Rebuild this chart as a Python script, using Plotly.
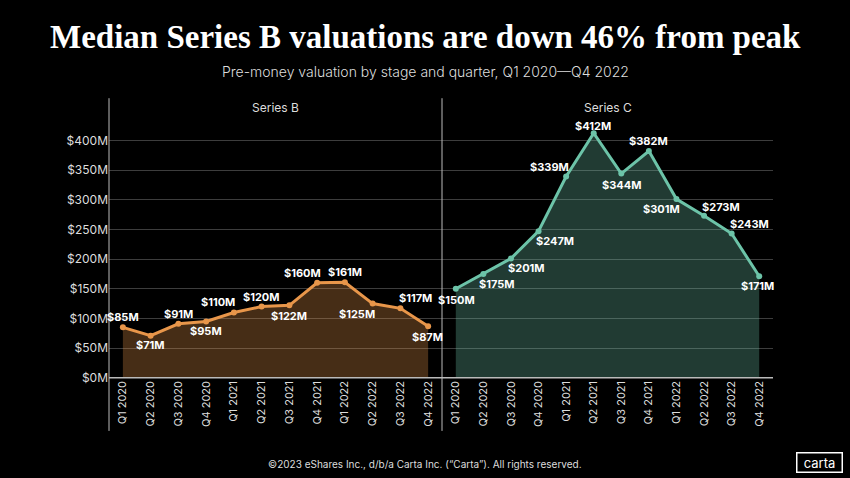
import plotly.graph_objects as go

quarters = ["Q1 2020", "Q2 2020", "Q3 2020", "Q4 2020",
            "Q1 2021", "Q2 2021", "Q3 2021", "Q4 2021",
            "Q1 2022", "Q2 2022", "Q3 2022", "Q4 2022"]
series_b = [85, 71, 91, 95, 110, 120, 122, 160, 161, 125, 117, 87]
series_c = [150, 175, 201, 247, 339, 412, 344, 382, 301, 273, 243, 171]
y_ticks = [0, 50, 100, 150, 200, 250, 300, 350, 400]
y_tick_text = [f"${v}M" for v in y_ticks]

# label offsets (style): pixel shifts of each value label from its point
shift_b = [(0, 10), (0, -9), (0, 10), (0, -10), (-16, 10), (0, 10),
           (0, -11), (-15, 10), (0, 10), (-16, -10), (15, 10), (-1, -11)]
shift_c = [(1, -11), (14, -10), (16, -10), (16, -10), (-17, 10), (-1, 7),
           (0, -11), (0, 10), (-15, -10), (17, 9), (18, 10), (-2, -10)]

# page is captured slightly squeezed vertically: draw a taller figure
W, H = 850, 486
REF_H = 478
def px(x): return x / W
def py(y): return 1 - y / REF_H

SANS = "Inter"
fig = go.Figure()
x_idx = list(range(len(quarters)))

for vals, col, fillc, xa, ya in [
    (series_b, "#e8964a", "rgba(232,150,74,0.30)", "x", "y"),
    (series_c, "#6cc3a8", "rgba(108,195,168,0.30)", "x2", "y2"),
]:
    fig.add_trace(go.Scatter(
        x=x_idx, y=vals, xaxis=xa, yaxis=ya,
        mode="lines+markers", fill="tozeroy", fillcolor=fillc,
        line=dict(color=col, width=3), marker=dict(size=6, color=col),
        hoverinfo="skip", showlegend=False))

for vals, shifts, xa, ya in [(series_b, shift_b, "x", "y"),
                             (series_c, shift_c, "x2", "y2")]:
    for i, (v, (dx, dy)) in enumerate(zip(vals, shifts)):
        fig.add_annotation(
            x=i, y=v, xref=xa, yref=ya, text=f"${v}M", showarrow=False,
            xanchor="center", yanchor="middle", xshift=dx, yshift=dy,
            font=dict(family=SANS, size=11, color="white", weight="bold"))

xaxis_common = dict(
    range=[-0.5, 11.5], tickmode="array", tickvals=x_idx, ticktext=quarters,
    tickangle=-90, showgrid=False, zeroline=False, showline=False,
    ticks="", tickfont=dict(family=SANS, size=11, color="#dddddd"),
    fixedrange=True)
yaxis_common = dict(
    range=[0, 471], tickmode="array", tickvals=y_ticks, ticktext=y_tick_text,
    showgrid=True, gridcolor="#3d3d3d", gridwidth=1, zeroline=False,
    showline=False, ticks="", fixedrange=True)

fig.update_layout(
    width=W, height=H, paper_bgcolor="black", plot_bgcolor="black",
    margin=dict(l=0, r=0, t=0, b=0),
    xaxis=dict(domain=[px(109), px(442)], anchor="y", **xaxis_common),
    xaxis2=dict(domain=[px(442), px(773)], anchor="y2", **xaxis_common),
    yaxis=dict(domain=[py(377), py(98)], anchor="x",
               tickfont=dict(family=SANS, size=12, color="#dddddd"),
               **yaxis_common),
    yaxis2=dict(domain=[py(377), py(98)], anchor="x2", showticklabels=False,
                **yaxis_common),
)

line_col = "#bbbbbb"
fig.add_shape(type="line", xref="paper", yref="paper", x0=px(109), x1=px(109),
              y0=py(430), y1=py(98), line=dict(color=line_col, width=1))
fig.add_shape(type="line", xref="paper", yref="paper", x0=px(442), x1=px(442),
              y0=py(430), y1=py(98), line=dict(color=line_col, width=1))
fig.add_shape(type="line", xref="paper", yref="paper", x0=px(109), x1=px(773),
              y0=py(377), y1=py(377), line=dict(color=line_col, width=1.5))

ann = [
    dict(text="Median Series B valuations are down 46% from peak", x=0.5, y=py(37),
         font=dict(family="Liberation Serif", size=33, color="white", weight="bold")),
    dict(text="Pre-money valuation by stage and quarter, Q1 2020—Q4 2022", x=0.5, y=py(71),
         font=dict(family=SANS, size=14, color="#dddddd", weight=300)),
    dict(text="Series B", x=(px(109) + px(442)) / 2, y=py(107),
         font=dict(family=SANS, size=12, color="#dddddd")),
    dict(text="Series C", x=(px(442) + px(773)) / 2, y=py(107),
         font=dict(family=SANS, size=12, color="#dddddd")),
    dict(text="©2023 eShares Inc., d/b/a Carta Inc. (“Carta”). All rights reserved.",
         x=0.5, y=py(463), font=dict(family=SANS, size=10, color="#dddddd")),
    dict(text="carta", x=px(819.5), y=py(462),
         font=dict(family=SANS, size=13, color="white"),
         bordercolor="white", borderwidth=1.5, borderpad=1, width=42),
]
for a in ann:
    fig.add_annotation(xref="paper", yref="paper", showarrow=False,
                       xanchor="center", yanchor="middle", **a)

post = (
    "document.body.style.margin='0';"
    "document.body.style.background='black';"
)
fig.write_html("out.html", config={"displayModeBar": False}, post_script=post)
